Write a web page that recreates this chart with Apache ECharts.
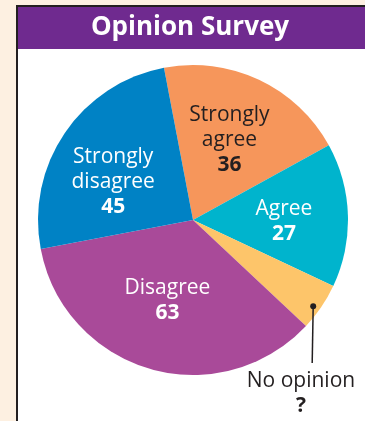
<!DOCTYPE html>
<html>
<head>
<meta charset="utf-8">
<script src="https://cdn.jsdelivr.net/npm/echarts@6/dist/echarts.min.js"></script>
<style>
  html, body { margin: 0; padding: 0; background: #fdf0e1; overflow: hidden; }
  .panel {
    position: absolute; left: 16px; top: 4.5px; width: 400px; height: 450px;
    background: #fff; border-left: 2.5px solid #231f20; border-top: 2.5px solid #231f20;
  }
  .panel .head { height: 42px; background: #6f2a8f; }
  #chart { position: absolute; left: 0; top: 0; width: 365px; height: 421px; }
</style>
</head>
<body>
<div class="panel"><div class="head"></div></div>
<div id="chart"></div>
<script>
// survey answers, clockwise from the top
const categories = ['Strongly agree', 'Agree', 'No opinion', 'Disagree', 'Strongly disagree']
const labelNames = ['Strongly\nagree', 'Agree', 'No opinion', 'Disagree', 'Strongly\ndisagree']
const counts = [36, 27, 9, 63, 45]
const shownValues = ['36', '27', '?', '63', '45']
const colors = ['#f6965b', '#00b4cd', '#fdc56a', '#a94a99', '#0082c5']

const cx = 193
const cy = 220
const R = 155
const startAngle = 100.8 // echarts degrees, 90 = top
const total = counts.reduce((a, b) => a + b, 0)

// mid angle of each slice, clockwise from the top (degrees)
const midAngles = []
let acc = 0
counts.forEach(v => {
  midAngles.push((90 - startAngle) + (acc + v / 2) / total * 360)
  acc += v
})
function polar(deg, r) {
  const a = deg * Math.PI / 180
  return [cx + r * Math.sin(a), cy - r * Math.cos(a)]
}

// small nudges so the inside labels sit where the printed ones do
const nudge = { 0: [-1, 0], 1: [3, 4], 3: [-1, -4], 4: [-7, 11] }

const noOp = categories.indexOf('No opinion')
const dot = polar(midAngles[noOp] + 1.5, 148)

const darkText = '#231f20'
const font = 'Open Sans'

function richFor(color) {
  return {
    n: { fontSize: 21, lineHeight: 25, color: color, fontFamily: font },
    v: { fontSize: 21, lineHeight: 25, color: color, fontWeight: 'bold', fontFamily: font }
  }
}

const myChart = echarts.init(document.getElementById('chart'))

myChart.setOption({
  backgroundColor: 'transparent',
  animation: false,
  title: {
    text: 'Opinion Survey',
    left: 190,
    top: 28,
    textAlign: 'center',
    textVerticalAlign: 'middle',
    padding: 0,
    textStyle: { color: '#fff', fontSize: 26, fontWeight: 'bold', fontFamily: font }
  },
  graphic: [
    // leader for the "No opinion" slice
    {
      type: 'polyline',
      z: 100,
      shape: { points: [[dot[0], dot[1]], [dot[0] - 1, 363]] },
      style: { stroke: darkText, lineWidth: 1.5 }
    },
    {
      type: 'circle',
      z: 101,
      shape: { cx: dot[0], cy: dot[1], r: 3 },
      style: { fill: darkText }
    }
  ],
  series: [
    {
      type: 'pie',
      center: [cx, cy],
      radius: [0, R],
      startAngle: startAngle,
      clockwise: true,
      avoidLabelOverlap: false,
      itemStyle: { borderWidth: 0 },
      emphasis: { disabled: true },
      label: {
        show: true,
        position: 'inside',
        fontFamily: font,
        formatter: p => `{n|${labelNames[p.dataIndex]}}\n{v|${shownValues[p.dataIndex]}}`,
        rich: richFor('#ffffff')
      },
      labelLine: { show: false },
      labelLayout: p => {
        const i = p.dataIndex
        if (i === noOp) {
          return { x: 301, y: 394, align: 'center', verticalAlign: 'middle' }
        }
        const pt = polar(midAngles[i], 88)
        const d = nudge[i] || [0, 0]
        return { x: pt[0] + d[0], y: pt[1] + d[1], align: 'center', verticalAlign: 'middle' }
      },
      data: categories.map((c, i) => {
        const item = { name: c, value: counts[i], itemStyle: { color: colors[i] } }
        if (i === 0 || i === noOp) {
          item.label = { rich: richFor(darkText) }
        }
        return item
      })
    }
  ]
})
</script>
</body>
</html>
